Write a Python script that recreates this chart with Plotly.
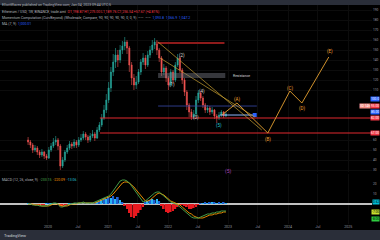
import plotly.graph_objects as go
import pandas as pd

# ---------------- data ----------------
candle_start = "2019-09-02"
first_open = 60
closes = [58, 55, 50, 52, 48, 45, 48, 44, 42, 50, 54, 58, 60, 54,
          34, 40,
          48, 52, 56, 54, 58,
          55, 60, 62, 66, 63, 60, 64,
          66, 62, 70, 75, 82,
          90, 100, 112, 128, 138,
          145, 140, 150, 154, 158,
          152, 135, 122, 115, 118,
          128, 138, 142, 135, 145,
          150, 155, 158, 150,
          142, 128, 132, 122, 115, 128,
          120, 135, 142, 130, 120,
          108, 95, 88, 83, 86,
          100, 107, 102, 95, 90,
          92, 88, 90, 84, 82,
          85, 88, 84, 86]
highs = [63, 60, 57, 55, 54, 50, 51, 49, 46, 53, 57, 62, 64, 62,
         56, 43,
         50, 55, 59, 58, 61,
         60, 63, 66, 69, 68, 65, 67,
         70, 68, 73, 78, 86,
         95, 106, 118, 133, 146,
         152, 150, 155, 159, 163,
         160, 154, 138, 126, 124,
         131, 141, 147, 145, 149,
         154, 160, 162, 160,
         152, 144, 136, 134, 124, 131,
         130, 138, 146, 144, 132,
         122, 110, 97, 91, 90,
         104, 110, 109, 104, 97,
         95, 94, 93, 91, 86,
         88, 90, 89, 88]
lows = [55, 52, 47, 48, 45, 42, 43, 41, 40, 41, 48, 52, 55, 50,
        30, 32,
        38, 46, 50, 51, 52,
        52, 53, 58, 60, 60, 57, 58,
        62, 59, 61, 68, 73,
        80, 87, 97, 108, 124,
        132, 133, 137, 146, 150,
        146, 128, 115, 110, 111,
        116, 125, 135, 131, 133,
        142, 147, 151, 145,
        138, 124, 125, 118, 110, 113,
        116, 118, 133, 127, 116,
        104, 90, 83, 80, 81,
        84, 97, 99, 92, 87,
        87, 85, 86, 81, 77,
        80, 83, 82, 83]

macd_line = [0, 0, -1, -1, -1, -2, -2, -2, -2, -1, 0, 1, 1, 0,
             -3, -3, -2, -1, 0, 0, 1, 1, 1, 1, 2, 1, 1, 1,
             1, 2, 3, 4, 5, 6, 7, 8, 10, 13, 17, 20, 23, 24,
             24, 23, 21, 18, 15, 12, 9, 6, 2, 3, 5, 7, 9, 11,
             12, 12, 10, 8, 6, 4, 2, 1, 0, -1, -3, -5, -7, -9,
             -11, -13, -14, -14, -14, -13, -12, -11, -10, -10, -9, -9, -8, -8,
             -7, -7, -7]
signal_line = [0, 0, 0, -1, -1, -1, -2, -2, -2, -2, -1, 0, 0, 0,
               -1, -2, -2, -2, -1, 0, 0, 0, 1, 1, 1, 1, 1, 1,
               1, 1, 2, 3, 4, 5, 6, 7, 8, 10, 13, 16, 19, 21,
               22, 22, 21, 19, 17, 14, 11, 8, 5, 3, 3, 4, 6, 8,
               10, 11, 10, 9, 7, 5, 3, 2, 1, 0, -1, -3, -5, -7,
               -9, -10, -12, -13, -14, -14, -14, -13, -12, -11, -11, -10, -10, -9,
               -9, -8, -8]
histogram = [0.5, 0.3, -0.3, -0.5, -0.4, -0.6, -0.3, -0.2, 0.2, 0.4, 0.6, 0.5, 0.3,
             -0.5, -2, -2.5, -1.5, -0.8,
             0.3, 0.5, 0.4, 0.6, 0.8, 0.5, 0.7, 0.4, 0.3, 0.5, 0.8, 1,
             2, 3, 4, 6, 5, 7, 6, 8, 5, 7, 4,
             2, -2, -5, -9, -13, -14, -12, -9, -6, -3,
             2, 3, 4, 5, 4, 5, 3,
             -2, -5, -8, -9, -8, -7, -5, -3, -1,
             -1, -2, -3, -5, -5, -4, -3, -1,
             0.5, 1, 1.5, 1, 1.5, 2, 1.5, 1, 1.5, 1, 1.5, 1]

# horizontal levels
red_level_dates = ["2020-11-12", "2025-05-26"]
red_level_prices = [82, 67]
top_level_dates = ["2021-10-20", "2022-12-10"]
top_level_price = 157
blue_level_dates = ["2021-11-01", "2023-06-25"]
blue_level_price = 94
short_level_dates = ["2022-11-12", "2023-06-12"]
short_level_price = 85

# descending trend lines
trend1_dates = ["2021-11-01", "2023-07-25"]
trend1_prices = [158, 70]
trend2_dates = ["2021-11-13", "2023-06-13"]
trend2_prices = [142, 83]

# projected wave path
wave_dates = ["2022-11-24", "2023-02-24", "2023-08-31", "2024-01-12", "2024-03-25", "2024-09-05"]
wave_prices = [85, 97, 67, 109, 97, 143]

# wave labels
orange_label_dates = ["2023-02-24", "2023-08-31", "2024-01-12", "2024-03-25", "2024-09-10"]
orange_label_prices = [101, 61, 112, 92, 149]
orange_label_texts = ["(A)", "(B)", "(C)", "(D)", "(E)"]
white_label_dates = ["2022-01-25", "2022-03-27", "2022-06-20", "2022-07-26"]
white_label_prices = [116, 145, 83, 109]
white_label_texts = ["(1)", "(2)", "(3)", "(4)"]
teal_label = ("2022-11-05", 75, "(5)")
purple_label = ("2023-01-01", 29, "(5)")

# resistance box
box_dates = ["2021-11-01", "2022-12-15"]
box_prices = [122, 127]
box_text_date = "2023-01-20"
box_text = "Resistance"

# right axis tags (price, text, color)
tag_prices = [101, 94, 88, 82, 67]
tag_texts = ["100.0", "93.00", "85.00", "82.00", "67.00"]
tag_colors = ["#2962ff", "#f23645", "#2962ff", "#f23645", "#f23645"]
price_ticks = [30, 40, 50, 60, 110, 120, 130, 140, 150, 160, 170, 180, 190]
macd_tag_values = [2, -8, -15]
macd_tag_texts = ["0.62", "-7.00", "-8.00"]
macd_tag_colors = ["#00bcd4", "#c6e030", "#2ecc40"]
macd_ticks = [10, 20]

tick_dates = ["2020-01-01", "2020-07-01", "2021-01-01", "2021-07-01", "2022-01-01",
              "2022-07-01", "2023-01-01", "2023-07-01", "2024-01-01", "2024-07-01",
              "2025-01-01", "2025-07-01"]
tick_labels = ["2020", "Jul", "2021", "Jul", "2022", "Jul", "2023", "Jul", "2024", "Jul", "2025", "Jul"]

# ---------------- figure ----------------
dates = pd.date_range(candle_start, periods=len(closes), freq="14D")
opens = [first_open] + closes[:-1]

FONT = "Roboto"
fig = go.Figure()

fig.add_trace(go.Candlestick(
    x=dates, open=opens, high=highs, low=lows, close=closes,
    increasing=dict(line=dict(color="#26a69a", width=0.6), fillcolor="#26a69a"),
    decreasing=dict(line=dict(color="#ef5350", width=0.6), fillcolor="#ef5350"),
    whiskerwidth=0, xaxis="x", yaxis="y", showlegend=False, hoverinfo="skip"))

def hline(ds, price, color, width, dash="solid"):
    fig.add_trace(go.Scatter(x=ds, y=[price, price], mode="lines",
                             line=dict(color=color, width=width, dash=dash),
                             xaxis="x", yaxis="y", showlegend=False, hoverinfo="skip"))

for p in red_level_prices:
    hline(red_level_dates, p, "#e0282e", 1.2)
hline(top_level_dates, top_level_price, "#8e1b1b", 2)
hline(blue_level_dates, blue_level_price, "#3949ab", 0.8)
hline(short_level_dates, short_level_price, "#8fb8ff", 1)
fig.add_trace(go.Scatter(x=[short_level_dates[1]], y=[short_level_price], mode="markers",
                         marker=dict(symbol="square", size=4, color="#2962ff"),
                         xaxis="x", yaxis="y", showlegend=False, hoverinfo="skip"))

for ds, ps in [(trend1_dates, trend1_prices), (trend2_dates, trend2_prices)]:
    fig.add_trace(go.Scatter(x=ds, y=ps, mode="lines", line=dict(color="#c8a030", width=0.7),
                             xaxis="x", yaxis="y", showlegend=False, hoverinfo="skip"))

fig.add_trace(go.Scatter(x=wave_dates, y=wave_prices, mode="lines", line=dict(color="#e6a030", width=0.9),
                         xaxis="x", yaxis="y", showlegend=False, hoverinfo="skip"))

# resistance box
fig.add_trace(go.Scatter(x=[box_dates[0], box_dates[1], box_dates[1], box_dates[0], box_dates[0]],
                         y=[box_prices[0], box_prices[0], box_prices[1], box_prices[1], box_prices[0]],
                         mode="lines", fill="toself", fillcolor="rgba(120,123,134,0.45)",
                         line=dict(width=0), xaxis="x", yaxis="y", showlegend=False, hoverinfo="skip"))

annotations = []
def label(x, y, text, color, size=4.5, xref="x", yref="y", **kw):
    annotations.append(dict(x=x, y=y, text=text, xref=xref, yref=yref, showarrow=False,
                            font=dict(color=color, size=size, family=FONT), **kw))

for d, p, t in zip(orange_label_dates, orange_label_prices, orange_label_texts):
    label(d, p, t, "#f0a030")
for d, p, t in zip(white_label_dates, white_label_prices, white_label_texts):
    label(d, p, t, "#d8d8d8")
label(teal_label[0], teal_label[1], teal_label[2], "#26c6da")
label(purple_label[0], purple_label[1], purple_label[2], "#ab47bc", size=5)
label(box_text_date, sum(box_prices) / 2, box_text, "#d0d0d0", size=3.5, xanchor="left")

for p, t, c in zip(tag_prices, tag_texts, tag_colors):
    label(1, p, t, "#ffffff", size=3.2, xref="paper", yref="y", xanchor="right",
          bgcolor=c, borderpad=0)
label(0.975, 94, "3D 14h", "#ffffff", size=3.2, xref="paper", yref="y", xanchor="right",
      bgcolor="#f28b82", borderpad=0)
for v, t, c in zip(macd_tag_values, macd_tag_texts, macd_tag_colors):
    label(1, v, t, "#000000", size=3.2, xref="paper", yref="y2", xanchor="right",
          bgcolor=c, borderpad=0)

# MACD panel
hist_colors = []
for i, h in enumerate(histogram):
    if h >= 0:
        hist_colors.append("#29b6f6" if i % 2 == 0 else "#1e63d6")
    else:
        hist_colors.append("#e8191f")
fig.add_trace(go.Bar(x=dates, y=histogram, marker=dict(color=hist_colors, line=dict(width=0)),
                     xaxis="x2", yaxis="y2", showlegend=False, hoverinfo="skip"))
fig.add_trace(go.Scatter(x=dates, y=signal_line, mode="lines", line=dict(color="#ff9800", width=0.9),
                         xaxis="x2", yaxis="y2", showlegend=False, hoverinfo="skip"))
fig.add_trace(go.Scatter(x=dates, y=macd_line, mode="lines", line=dict(color="#4caf50", width=0.9),
                         xaxis="x2", yaxis="y2", showlegend=False, hoverinfo="skip"))

# header / legend texts
label(0.0, 0.997, "ElliottWaves published on TradingView.com, Jan 04, 2023 09:44 UTC-5", "#b2b5be",
      size=3.5, xref="paper", yref="paper", xanchor="left", yanchor="top")
label(0.0, 0.965,
      "Ethereum / USD, 1W, BINANCE, trade.amt  <span style='color:#f23645'>O1,198.87 H1,275.00 L1,189.76 C1,256.54 +57.67 (+4.81%)</span>",
      "#b2b5be", size=3.5, xref="paper", yref="paper", xanchor="left", yanchor="top")
label(0.0, 0.94,
      "Momentum Computation (CurvBeyond) (Wholesale, Compare, 90, 90, 90, 90, 90, 0, 0, 9)  ——  ——  <span style='color:#2962ff'>1,093.8  1,066.9  1,047.2</span>",
      "#b2b5be", size=3.5, xref="paper", yref="paper", xanchor="left", yanchor="top")
label(0.0, 0.915, "MA (7, 9)  <span style='color:#2962ff'>1,000.01</span>",
      "#b2b5be", size=3.5, xref="paper", yref="paper", xanchor="left", yanchor="top")
label(0.0, 0.265,
      "MACD (12, 26, close, 9)  <span style='color:#4caf50'>-233.15</span>  <span style='color:#ff9800'>-220.09</span>  <span style='color:#26c6da'>-13.06</span>",
      "#b2b5be", size=3.5, xref="paper", yref="paper", xanchor="left", yanchor="top")
label(0.005, 0.02, "TradingView", "#d1d4dc", size=4, xref="paper", yref="paper", xanchor="left", yanchor="middle")

shapes = [
    dict(type="rect", xref="paper", yref="paper", x0=0, x1=1, y0=0.979, y1=1,
         fillcolor="#2a2e39", line=dict(width=0), layer="below"),
    dict(type="rect", xref="paper", yref="paper", x0=0, x1=1, y0=0, y1=0.042,
         fillcolor="#2a2e39", line=dict(width=0), layer="below"),
]

xrange_ = ["2019-03-15", "2025-05-26"]
common_x = dict(range=xrange_, domain=[0, 0.979], showgrid=True, gridcolor="#0c0c0c",
                zeroline=False, showline=False, tickvals=tick_dates, ticktext=tick_labels,
                tickfont=dict(size=3.5, color="#9598a1", family=FONT), ticks="")

fig.update_layout(
    width=380, height=240, margin=dict(l=0, r=0, t=0, b=0),
    paper_bgcolor="#000000", plot_bgcolor="#000000",
    font=dict(family=FONT, color="#9598a1"),
    bargap=0.25,
    xaxis=dict(**common_x, anchor="y", showticklabels=False, rangeslider=dict(visible=False)),
    xaxis2=dict(**common_x, anchor="y2", matches="x", showticklabels=True),
    yaxis=dict(domain=[0.2833, 0.979], range=[28, 195], side="right", tickvals=price_ticks,
               showgrid=True, gridcolor="#0c0c0c", zeroline=False,
               tickfont=dict(size=3.2, color="#9598a1", family=FONT), ticks=""),
    yaxis2=dict(domain=[0.0667, 0.275], range=[-20, 30], side="right", tickvals=macd_ticks,
                showgrid=False, zeroline=True, zerolinecolor="#c0c0c0", zerolinewidth=1.5,
                tickfont=dict(size=3.2, color="#9598a1", family=FONT), ticks=""),
    annotations=annotations, shapes=shapes,
)

fig.write_html("out.html")
